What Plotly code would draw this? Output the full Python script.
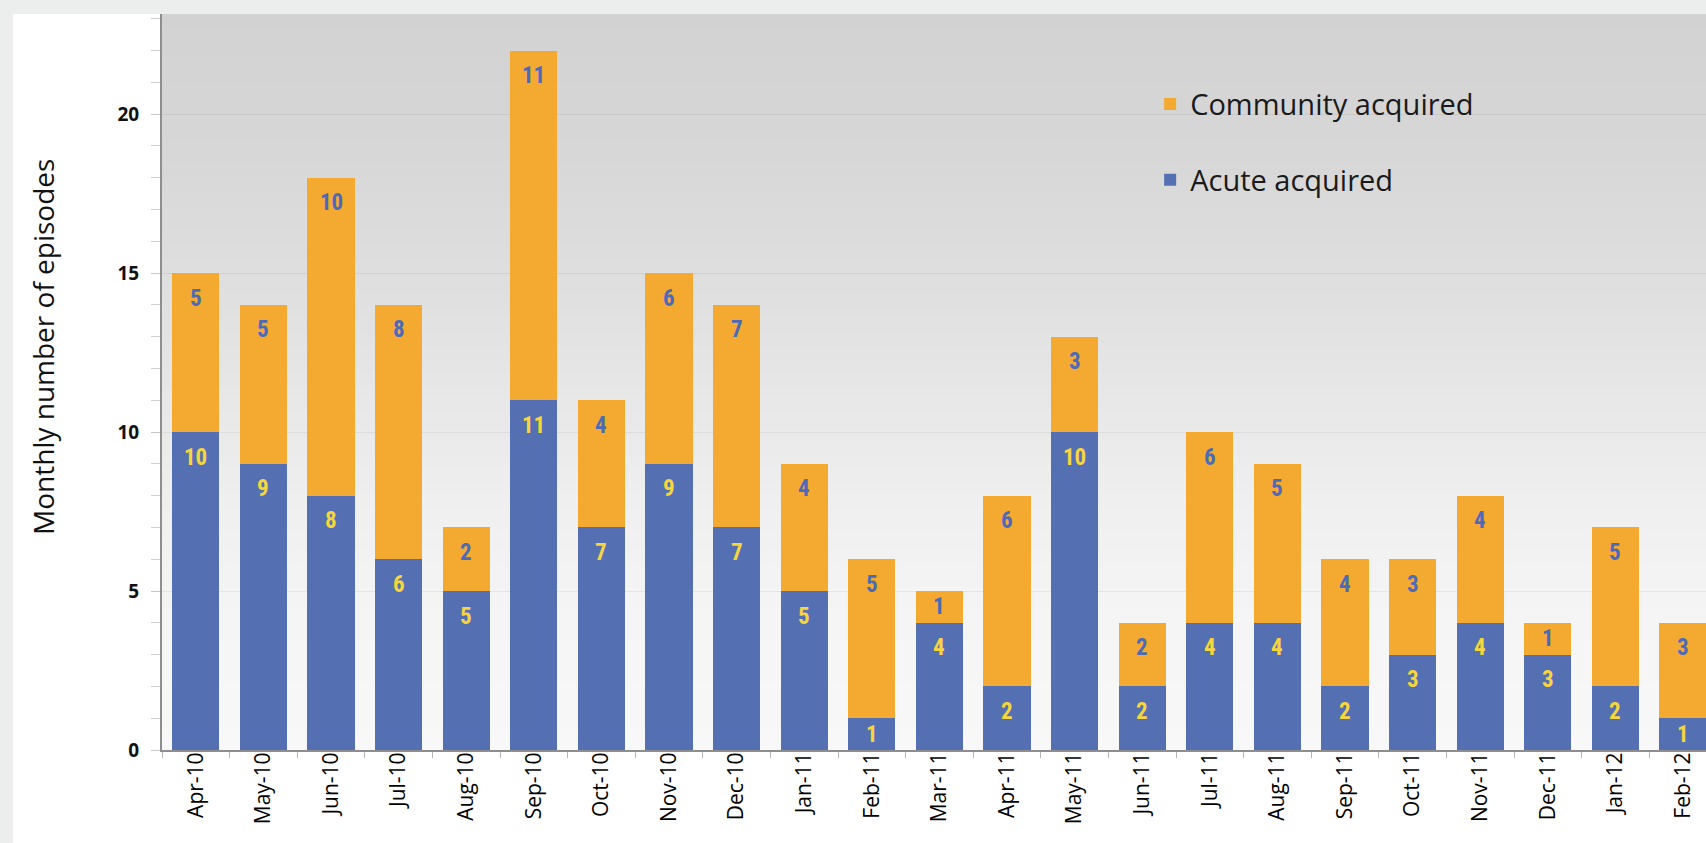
import plotly.graph_objects as go

months = ["Apr-10", "May-10", "Jun-10", "Jul-10", "Aug-10", "Sep-10", "Oct-10", "Nov-10",
          "Dec-10", "Jan-11", "Feb-11", "Mar-11", "Apr-11", "May-11", "Jun-11", "Jul-11",
          "Aug-11", "Sep-11", "Oct-11", "Nov-11", "Dec-11", "Jan-12", "Feb-12"]
acute = [10, 9, 8, 6, 5, 11, 7, 9, 7, 5, 1, 4, 2, 10, 2, 4, 4, 2, 3, 4, 3, 2, 1]
community = [5, 5, 10, 8, 2, 11, 4, 6, 7, 4, 5, 1, 6, 3, 2, 6, 5, 4, 3, 4, 1, 5, 3]
y_title = "Monthly number of episodes"

BLUE = "#5470b3"
ORANGE = "#f4aa30"
YELLOW_TXT = "#f7d53e"
BLUE_TXT = "#4c6ab6"
FONT = "Open Sans, Noto Sans, sans-serif"
LBL_FONT = "Liberation Sans Narrow, Roboto Condensed, Arial Narrow, Liberation Sans, sans-serif"

W, H = 1706, 843
ML, MR, MT, MB = 162, 0, 14, 93
PLOT_H = H - MT - MB
PLOT_W = W - ML - MR
Y_MAX = 23.15
PX_PER_UNIT = PLOT_H / Y_MAX

fig = go.Figure()
fig.add_trace(go.Bar(x=months, y=acute, name="Acute acquired", marker=dict(color=BLUE, line=dict(width=0)),
                     legendgroup="a", legendrank=2, hoverinfo="x+y+name"))
fig.add_trace(go.Bar(x=months, y=community, name="Community acquired",
                     marker=dict(color=ORANGE, line=dict(width=0)), legendgroup="c", legendrank=1,
                     hoverinfo="x+y+name"))

annotations = []
for m, a, c in zip(months, acute, community):
    for val, top, col in ((a, a, YELLOW_TXT), (c, a + c, BLUE_TXT)):
        shift = -min(25, val * PX_PER_UNIT / 2)
        annotations.append(dict(x=m, y=top, xref="x", yref="y", text=str(val), showarrow=False,
                                yanchor="middle", yshift=shift,
                                font=dict(family=LBL_FONT, size=23, color=col, weight="bold")))

# y-axis title placed as rotated text left of the axis
annotations.append(dict(x=(43 - ML) / PLOT_W, y=(H - MB - 347) / PLOT_H, xref="paper", yref="paper",
                        text=y_title, textangle=-90, showarrow=False, xanchor="center", yanchor="middle",
                        font=dict(size=28, color="#111", family=FONT)))

def lerp_stops(t):
    stops = [(0.0, 210), (0.19, 215), (0.39, 224), (0.66, 239), (0.82, 245), (1.0, 248)]
    for (t0, v0), (t1, v1) in zip(stops[:-1], stops[1:]):
        if t0 <= t <= t1:
            return v0 + (v1 - v0) * (t - t0) / (t1 - t0)
    return stops[-1][1]

shapes = []
shapes.append(dict(type="rect", xref="paper", yref="paper", x0=(13 - ML) / PLOT_W, x1=1.01,
                   y0=-(MB + 5) / PLOT_H, y1=1.0, fillcolor="white", line=dict(width=0), layer="below"))
N = 140
for i in range(N):
    t = (i + 0.5) / N
    v = int(round(lerp_stops(t)))
    col = f"rgb({v},{v},{min(255, v + 1)})"
    shapes.append(dict(type="rect", xref="paper", yref="paper", x0=0, x1=1.01,
                       y1=1 - i / N, y0=1 - (i + 1) / N - 0.002,
                       fillcolor=col, line=dict(width=0), layer="below"))

fig.update_layout(
    width=W, height=H,
    margin=dict(l=ML, r=MR, t=MT, b=MB, autoexpand=False),
    paper_bgcolor="#eceeed",
    plot_bgcolor="rgba(0,0,0,0)",
    barmode="stack",
    bargap=0.3,
    font=dict(family=FONT, color="#111"),
    shapes=shapes,
    annotations=annotations,
    showlegend=True,
    legend=dict(x=0.64, y=0.912, xanchor="left", yanchor="top", bgcolor="rgba(0,0,0,0)",
                font=dict(size=29, color="#1a1a1a", family=FONT),
                traceorder="grouped", tracegroupgap=35),
    xaxis=dict(type="category", range=[-0.5, 22.34], tickson="boundaries", ticks="outside",
               ticklen=6, tickcolor="#b5b5b5", tickwidth=1, showline=True, linecolor="#8e8e8e",
               linewidth=2, tickangle=-90, tickfont=dict(size=21, color="#000", family=FONT),
               ticklabelstandoff=-8, showgrid=False, fixedrange=True),
    yaxis=dict(range=[0, Y_MAX], tickvals=[0, 5, 10, 15, 20], ticks="outside", ticklen=9,
               tickcolor="#c8c8c8", tickwidth=1, showline=True, linecolor="#8e8e8e", linewidth=2,
               showgrid=True, gridcolor="rgba(0,0,0,0.06)", gridwidth=1, zeroline=False,
               tickfont=dict(size=19, color="#111", family=FONT, weight="bold"),
               ticklabelstandoff=8,
               minor=dict(dtick=1, ticks="outside", ticklen=9, tickcolor="#cfcfcf", showgrid=False),
               fixedrange=True),
)

fig.write_html("out.html")
